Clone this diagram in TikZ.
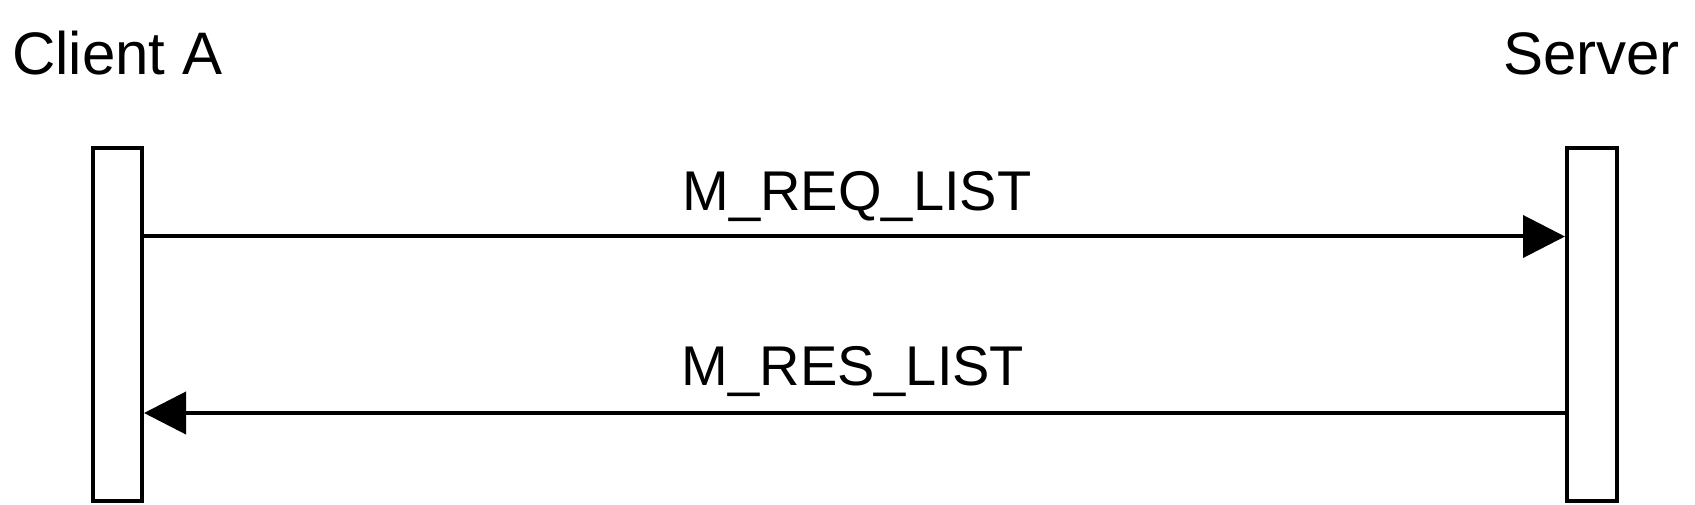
\documentclass[tikz,border=0pt]{standalone}
\usepackage{fontspec}
\setmainfont{Liberation Sans}
\usetikzlibrary{arrows.meta}
\begin{document}
\begin{tikzpicture}[x=1pt,y=-1pt,
  lifebox/.style={draw=black,line width=4pt,fill=white,rectangle,inner sep=0pt,minimum width=49pt,minimum height=353pt},
  headtext/.style={inner sep=0pt,font=\fontsize{60}{72}\selectfont},
  msgtext/.style={inner sep=0pt,font=\fontsize{56}{67}\selectfont,anchor=base},
  msg/.style={line width=4pt,-{Triangle[length=42pt,width=42pt]}}]
\useasboundingbox (0,0) rectangle (1695,505);
\node[headtext,anchor=base west] (clientlbl) at (12,75) {Client A};
\node[headtext,anchor=base east] (serverlbl) at (1680,75) {Server};
\node[lifebox] (ca) at (117.5,324.5) {};
\node[lifebox,minimum width=50pt] (srv) at (1592,324.5) {};
\coordinate (y1) at (0,236.5);
\coordinate (y2) at (0,413);
\node[msgtext] (reqlbl) at (857,211) {M\_REQ\_LIST};
\node[msgtext] (reslbl) at (853,385) {M\_RES\_LIST};
\draw[msg] (ca.east |- y1) -- (srv.west |- y1);
\draw[msg] (srv.west |- y2) -- (ca.east |- y2);
\end{tikzpicture}
\end{document}
